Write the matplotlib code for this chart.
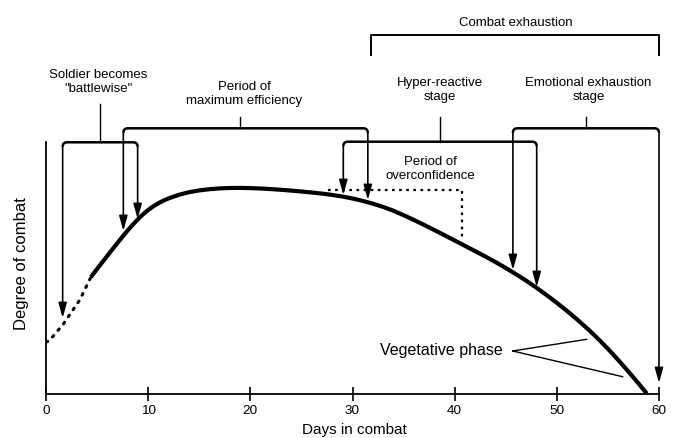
import matplotlib.pyplot as plt
from matplotlib.path import Path
from matplotlib.patches import PathPatch

plt.rcParams['font.family'] = ['Liberation Sans', 'DejaVu Sans']

# curve: early (dotted) part and main (solid) part
early_days = [0, 0.3, 1.7, 3.3, 4.4]
early_level = [52, 53, 70, 94, 117]
days = [4.4, 5.3, 6.6, 7.7, 8.0, 8.5, 9.0, 9.5, 10.0, 10.5, 11.0, 11.5, 12.0,
        13.0, 14.0, 15.0, 16.0, 17.0, 18.0, 19.0, 20.0, 21.0, 22.0, 23.0,
        24.0, 25.0, 26.0, 27.0, 28.0, 29.0, 30.0, 31.0, 32.0, 33.0, 34.0,
        35.0, 36.0, 37.0, 38.0, 39.0, 40.0, 41.0, 42.0, 43.0, 44.0, 45.0,
        46.0, 47.0, 48.0, 49.0, 50.0, 51.0, 52.0, 53.0, 54.0, 55.0, 56.0,
        57.0, 58.0, 58.8]
level = [117, 129, 146, 160, 163.6, 169.4, 174.8, 179.7, 184, 187.7, 190.8,
         193.4, 195.6, 199.2, 201.8, 203.6, 204.8, 205.6, 206, 206.1, 205.9,
         205.5, 204.9, 204.2, 203.4, 202.5, 201.5, 200.4, 199.1, 197.5, 195.5,
         193.1, 190.3, 187.1, 183.3, 178.8, 174.1, 169.1, 164.0, 158.8, 153.5,
         148.2, 142.9, 137.5, 131.9, 126.0, 119.8, 113.3, 106.3, 98.9, 91.2,
         83.0, 74.4, 65.3, 55.6, 45.2, 34.1, 22.5, 10.5, 0.5]

# brackets: (label, left day, right day, bar height, left tip, right tip, stem day, text day, text height)
brackets = [
    ('Soldier becomes\n"battlewise"', 1.63, 8.97, 251.7, 76, 175, 5.29, 5.1, 311.7),
    ('Period of\nmaximum efficiency', 7.57, 31.5, 265.7, 163, 194, 18.99, 19.4, 300),
    ('Hyper-reactive\nstage', 29.1, 48.03, 252.3, 199, 107, 38.56, 38.56, 303.7),
    ('Emotional exhaustion\nstage', 45.7, 60, 265.7, 124, 11, 52.85, 53.1, 303.7),
]
stem_top = [290, 277, 277.3, 277.3]

combat_span = [31.78, 60]
combat_bar = 359
combat_leg = 339

over_days = [27.6, 40.7]
over_level = [204, 156]

veg_text = (32.7, 43)
veg_from = (45.68, 43)
veg_to = [(52.92, 54.7), (56.44, 17.3)]

fig = plt.figure(figsize=(6.75, 4.38), dpi=100)
ax = fig.add_axes([46 / 675, 44 / 438, 613 / 675, 252 / 438])
ax.set_xlim(0, 60)
ax.set_ylim(0, 252)

ax.plot(early_days, early_level, color='black', lw=2.2, ls=(0, (0.6, 2.2)),
        dash_capstyle='round')
ax.plot(days, level, color='black', lw=3, solid_capstyle='butt',
        solid_joinstyle='round')

rx, ry = 0.45, 4.5
for (label, x0, x1, yb, t0, t1, xs, xt, yt), ys in zip(brackets, stem_top):
    verts = [(x0, yb - ry), (x0, yb), (x0 + rx, yb), (x1 - rx, yb), (x1, yb), (x1, yb - ry)]
    codes = [Path.MOVETO, Path.CURVE3, Path.CURVE3, Path.LINETO, Path.CURVE3, Path.CURVE3]
    ax.add_patch(PathPatch(Path(verts, codes), fill=False, lw=1.8, color='black',
                           clip_on=False))
    for x, tip in ((x0, t0), (x1, t1)):
        ax.annotate('', xy=(x, tip), xytext=(x, yb - ry), annotation_clip=False,
                    arrowprops=dict(arrowstyle='-|>,head_length=0.9,head_width=0.25',
                                    lw=1.2, color='black', shrinkA=0, shrinkB=0))
    ax.plot([xs, xs], [yb, ys], color='black', lw=1, clip_on=False)
    ax.text(xt, yt, label, ha='center', va='center', fontsize=9.5,
            linespacing=1.25, clip_on=False)

# combat exhaustion bracket
ax.plot([combat_span[0], combat_span[0], combat_span[1], combat_span[1]],
        [combat_leg, combat_bar, combat_bar, combat_leg], color='black', lw=1.4,
        clip_on=False)
ax.text(sum(combat_span) / 2 + 0.1, 371.3, 'Combat exhaustion', ha='center',
        va='center', fontsize=9.5, clip_on=False)

# period of overconfidence
ax.plot([over_days[0], over_days[1], over_days[1]],
        [over_level[0], over_level[0], over_level[1]], color='black', lw=1.6,
        ls=(0, (1.2, 2)))
ax.text(37.6, 225, 'Period of\noverconfidence', ha='center', va='center',
        fontsize=9.5, linespacing=1.25)

# vegetative phase
ax.text(veg_text[0], veg_text[1], 'Vegetative phase', ha='left', va='center',
        fontsize=11.5)
for pt in veg_to:
    ax.plot([veg_from[0], pt[0]], [veg_from[1], pt[1]], color='black', lw=1)

for side in ['top', 'right']:
    ax.spines[side].set_visible(False)
ax.spines['left'].set_linewidth(1.3)
ax.spines['bottom'].set_linewidth(1.3)
ax.set_yticks([])
ax.set_xticks([0, 10, 20, 30, 40, 50, 60])
ax.tick_params(axis='x', direction='inout', length=10, width=1.2,
               labelsize=9.7, pad=3)

fig.text(22 / 675, 1 - 264 / 438, 'Degree of combat', rotation=90,
         ha='center', va='center', fontsize=12)
fig.text(354 / 675, 1 - 430 / 438, 'Days in combat', ha='center',
         va='center', fontsize=11)

plt.savefig('out.png', dpi=100)
